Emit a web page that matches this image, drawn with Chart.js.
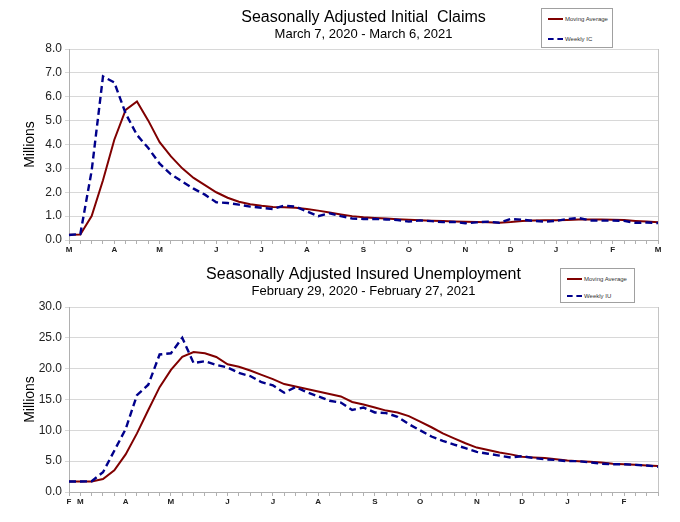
<!DOCTYPE html>
<html>
<head>
<meta charset="utf-8">
<title>Initial Claims and Insured Unemployment</title>
<script src="https://cdn.jsdelivr.net/npm/chart.js@4.4.1/dist/chart.umd.min.js"></script>
<style>
    body { margin: 0; background: #fff; font-family: "Liberation Sans", Arial, sans-serif; }
    .panel { position: absolute; left: 0; width: 680px; }
    #topPanel { top: 0; height: 262px; }
    #bottomPanel { top: 262px; height: 260px; }
    .legend {
        position: absolute;
        border: 1px solid #a0a0a0;
        background: #fff;
        font-size: 6px;
        color: #333;
        box-sizing: border-box;
    }
    .legend div { position: absolute; left: 6px; white-space: nowrap; line-height: 6px; }
    .legend span.swatch { display: inline-block; width: 15px; vertical-align: middle; margin-right: 2px; }
    .solid { border-top: 2px solid #800000; }
    .dashed { border-top: 2px dashed #00008b; }
</style>
</head>
<body>
<div class="panel" id="topPanel">
    <canvas id="claimsChart" width="680" height="262"></canvas>
    <div class="legend" style="left:541px; top:8px; width:72px; height:40px;">
        <div style="top:7px;"><span class="swatch solid"></span>Moving Average</div>
        <div style="top:27px;"><span class="swatch dashed"></span>Weekly IC</div>
    </div>
</div>
<div class="panel" id="bottomPanel">
    <canvas id="insuredChart" width="680" height="260"></canvas>
    <div class="legend" style="left:560px; top:6px; width:75px; height:35px;">
        <div style="top:7px;"><span class="swatch solid"></span>Moving Average</div>
        <div style="top:24px;"><span class="swatch dashed"></span>Weekly IU</div>
    </div>
</div>
<script>
// weeks ending Mar 7 2020 .. Mar 6 2021, month letter on first week of month
const claimsWeeks = [
    "M", "", "", "", "A", "", "", "", "M", "", "", "", "", "J", "", "", "",
    "J", "", "", "", "A", "", "", "", "", "S", "", "", "", "O", "", "", "", "",
    "N", "", "", "", "D", "", "", "", "J", "", "", "", "", "F", "", "", "", "M"
];
const weeklyIC = [
    0.21, 0.25, 2.9, 6.85, 6.6, 5.3, 4.4, 3.85, 3.2, 2.75, 2.45, 2.15, 1.9,
    1.58, 1.55, 1.48, 1.4, 1.35, 1.3, 1.44, 1.4, 1.2, 1.0, 1.12, 1.0, 0.9,
    0.88, 0.88, 0.86, 0.84, 0.77, 0.82, 0.79, 0.75, 0.76, 0.7, 0.74, 0.77, 0.72,
    0.88, 0.85, 0.8, 0.77, 0.8, 0.88, 0.92, 0.82, 0.81, 0.81, 0.8, 0.72, 0.73, 0.71
];
const claimsAvg = [
    0.22, 0.23, 1.0, 2.5, 4.2, 5.45, 5.8, 5.0, 4.1, 3.5, 3.0, 2.6, 2.3,
    2.0, 1.77, 1.6, 1.5, 1.43, 1.38, 1.37, 1.35, 1.3, 1.23, 1.15, 1.07, 1.0,
    0.95, 0.92, 0.9, 0.87, 0.85, 0.83, 0.81, 0.8, 0.78, 0.76, 0.75, 0.74, 0.72,
    0.75, 0.8, 0.82, 0.83, 0.83, 0.84, 0.86, 0.86, 0.86, 0.85, 0.84, 0.8, 0.77, 0.74
];

// weeks ending Feb 29 2020 .. Feb 27 2021
const insuredWeeks = [
    "F", "M", "", "", "", "A", "", "", "", "M", "", "", "", "", "J", "", "", "",
    "J", "", "", "", "A", "", "", "", "", "S", "", "", "", "O", "", "", "", "",
    "N", "", "", "", "D", "", "", "", "J", "", "", "", "", "F", "", "", ""
];
const weeklyIU = [
    1.7, 1.7, 1.75, 3.2, 6.7, 10.2, 15.7, 17.4, 22.3, 22.5, 25.0, 20.9, 21.2,
    20.6, 20.2, 19.3, 18.8, 17.8, 17.3, 16.1, 17.0, 16.2, 15.5, 14.8, 14.5, 13.3,
    13.7, 12.9, 12.8, 12.2, 11.0, 10.0, 9.0, 8.3, 7.7, 7.1, 6.5, 6.2, 5.9,
    5.6, 5.8, 5.5, 5.3, 5.2, 5.0, 5.0, 4.8, 4.6, 4.5, 4.5, 4.4, 4.3, 4.1
];
const insuredAvg = [
    1.7, 1.7, 1.7, 2.1, 3.5, 6.1, 9.5, 13.3, 17.0, 19.8, 21.9, 22.7, 22.5,
    21.9, 20.7, 20.3, 19.7, 19.0, 18.3, 17.5, 17.1, 16.7, 16.3, 15.9, 15.5, 14.6,
    14.2, 13.7, 13.2, 12.9, 12.3, 11.4, 10.5, 9.5, 8.7, 7.9, 7.2, 6.8, 6.4,
    6.1, 5.7, 5.6, 5.5, 5.3, 5.1, 5.0, 4.9, 4.8, 4.6, 4.5, 4.4, 4.3, 4.2
];

const FONT = "'Liberation Sans', Arial, sans-serif";

// thin border on the right side of the plot area
const rightFrame = {
    id: "rightFrame",
    beforeDatasetsDraw(chart) {
        const { ctx, chartArea: a } = chart;
        ctx.save();
        ctx.strokeStyle = "#c4c4c4";
        ctx.lineWidth = 1;
        ctx.beginPath();
        ctx.moveTo(a.right + 0.5, a.top);
        ctx.lineTo(a.right + 0.5, a.bottom);
        ctx.stroke();
        ctx.restore();
    }
};

function makeChart(id, cfg) {
    const ctx = document.getElementById(id).getContext("2d");
    return new Chart(ctx, {
        type: "line",
        data: {
            labels: cfg.labels,
            datasets: [{
                label: cfg.weeklyName,
                data: cfg.weekly,
                borderColor: "#00008b",
                borderWidth: 2.4,
                borderDash: [7, 4],
                pointRadius: 0,
                tension: 0,
                fill: false
            }, {
                label: "Moving Average",
                data: cfg.avg,
                borderColor: "#800000",
                borderWidth: 2,
                pointRadius: 0,
                tension: 0,
                fill: false
            }]
        },
        plugins: [rightFrame],
        options: {
            responsive: false,
            animation: false,
            layout: { padding: { left: 0, right: 22, top: 0, bottom: 0 } },
            plugins: {
                legend: { display: false },
                tooltip: { enabled: false },
                title: {
                    display: true,
                    text: cfg.title,
                    fullSize: false,
                    color: "#000",
                    font: { family: FONT, size: 16, weight: "normal", lineHeight: 1.2 },
                    padding: { top: cfg.titleTop, bottom: 0 }
                },
                subtitle: {
                    display: true,
                    text: cfg.subtitle,
                    fullSize: false,
                    color: "#000",
                    font: { family: FONT, size: 13, weight: "normal", lineHeight: 1.1 },
                    padding: { top: 0, bottom: cfg.subBottom }
                }
            },
            scales: {
                x: {
                    afterFit: s => { s.height = cfg.xHeight; },
                    grid: { display: true, drawOnChartArea: false, drawTicks: true, tickLength: 4, color: "#b0b0b0" },
                    border: { color: "#b0b0b0" },
                    ticks: {
                        autoSkip: false,
                        maxRotation: 0,
                        padding: 1,
                        color: "#222",
                        font: { family: FONT, size: 8, weight: "bold" },
                        callback: (v, i) => cfg.labels[i]
                    }
                },
                y: {
                    min: 0,
                    max: cfg.yMax,
                    afterFit: s => { s.width = 69; },
                    grid: { color: "#d8d8d8", lineWidth: 1, tickLength: 4 },
                    border: { color: "#b0b0b0" },
                    ticks: {
                        stepSize: cfg.yStep,
                        padding: 3,
                        color: "#222",
                        font: { family: FONT, size: 12 },
                        callback: v => v.toFixed(1)
                    },
                    title: {
                        display: true,
                        text: "Millions",
                        color: "#000",
                        font: { family: FONT, size: 14 },
                        padding: { top: 22, bottom: 0 }
                    }
                }
            }
        }
    });
}

makeChart("claimsChart", {
    labels: claimsWeeks,
    weekly: weeklyIC,
    avg: claimsAvg,
    weeklyName: "Weekly IC",
    title: "Seasonally Adjusted Initial  Claims",
    subtitle: "March 7, 2020 - March 6, 2021",
    titleTop: 8,
    subBottom: 7.5,
    xHeight: 22,
    yMax: 8,
    yStep: 1
});

makeChart("insuredChart", {
    labels: insuredWeeks,
    weekly: weeklyIU,
    avg: insuredAvg,
    weeklyName: "Weekly IU",
    title: "Seasonally Adjusted Insured Unemployment",
    subtitle: "February 29, 2020 - February 27, 2021",
    titleTop: 3,
    subBottom: 8.5,
    xHeight: 30,
    yMax: 30,
    yStep: 5
});
</script>
</body>
</html>
